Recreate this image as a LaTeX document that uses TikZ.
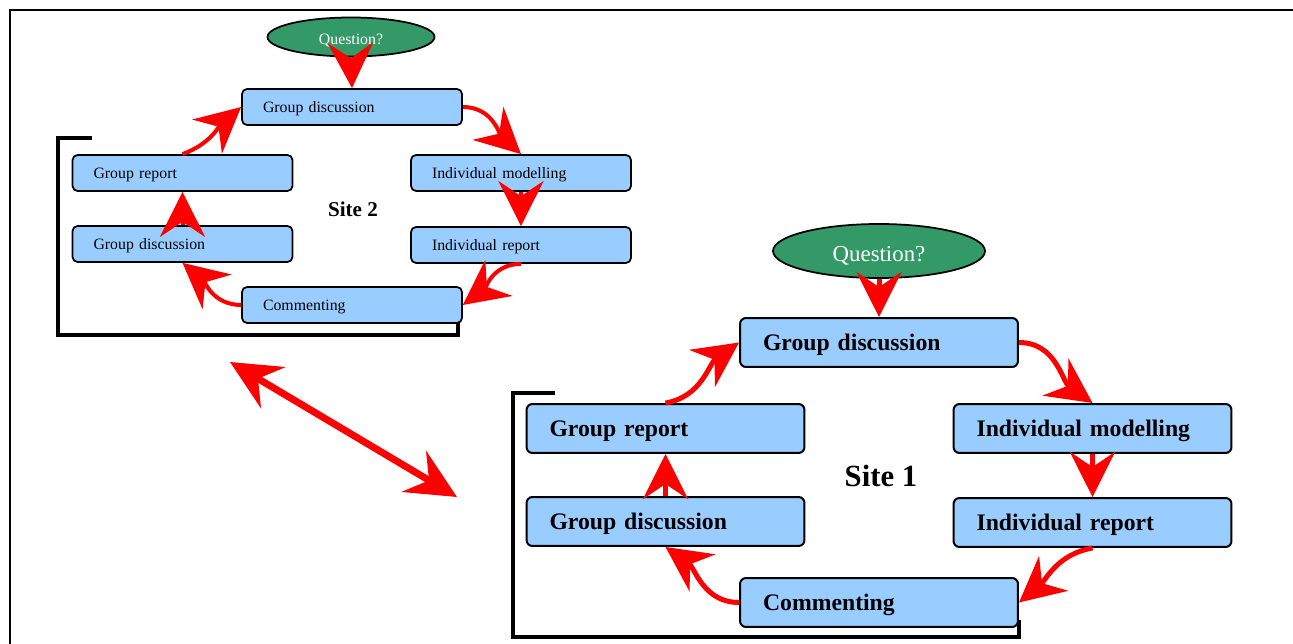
\documentclass[tikz,border=0pt]{standalone}
\usepackage{fontspec}
\setmainfont{Liberation Serif}
\usetikzlibrary{arrows.meta,shapes.geometric}
\definecolor{boxblue}{HTML}{99CCFF}
\definecolor{qgreen}{HTML}{339966}

\begin{document}
\begin{tikzpicture}[x=0.02cm, y=-0.02cm,
  bigbox/.style={draw, fill=boxblue, rounded corners=0.12cm, line width=0.04cm,
    minimum width=5.56cm, minimum height=0.98cm, text width=4.64cm, inner xsep=0.46cm,
    align=left, text depth=0pt, font=\fontsize{13.5}{15}\selectfont\bfseries},
  smallbox/.style={draw, fill=boxblue, rounded corners=0.1cm, line width=0.035cm,
    minimum width=4.4cm, minimum height=0.72cm, text width=3.56cm, inner xsep=0.42cm,
    align=left, text depth=0pt, font=\fontsize{9}{11}\selectfont},
  question/.style={ellipse, draw, fill=qgreen, line width=0.035cm, text=white,
    inner sep=0pt, text depth=0pt},
  flow/.style={red, line width=0.1cm, -{Stealth[length=0.9cm, width=0.9cm, inset=0.3cm]}},
  thinflow/.style={flow, line width=0.08cm},
  link/.style={red, line width=0.14cm,
    {Stealth[length=1cm, width=0.95cm, inset=0.35cm]}-{Stealth[length=1cm, width=0.95cm, inset=0.35cm]}},
  bracket/.style={line width=0.08cm}]

  \useasboundingbox (0,0) rectangle (1293,644);

  % --- outer frame (cut by the page) ---
  \draw[line width=0.05cm] (10,700) -- (10,10) -- (1350,10);

  % --- Site 2 ---
  \node[question, minimum width=3.34cm, minimum height=0.78cm, text height=9pt,
        font=\fontsize{9}{11}\selectfont] (q2) at (351,37) {Question?};
  \foreach \name/\x/\y/\txt in {gd2/352/107/Group discussion,
      gr2/182.5/173/Group report, im2/521/173/Individual modelling,
      gdl2/182.5/244/Group discussion, ir2/521/245/Individual report,
      cm2/352/305/Commenting} {
    \node[smallbox] (\name) at (\x,\y) {\txt};
  }
  \node[font=\fontsize{12}{14}\selectfont\bfseries] (site2) at (353,209) {Site 2};
  \draw[bracket] (92,138) -- (58,138) -- (58,335) -- (458,335) -- (458,322);

  \draw[thinflow] (q2.south) -- (gd2.north);
  \draw[thinflow] (gd2.east) to[out=0, in=137] (im2.north);
  \draw[thinflow] (im2.south) -- (ir2.north);
  \draw[thinflow] (ir2.south) to[out=180, in=37] (cm2.east);
  \draw[thinflow] (cm2.west) to[out=180, in=-40] (gdl2.south);
  \draw[thinflow] (gdl2.north) -- (gr2.south);
  \draw[thinflow] (gr2.north) to[out=20, in=221] (gd2.west);

  % --- Site 1 ---
  \node[question, minimum width=4.24cm, minimum height=1.08cm, text height=12.5pt,
        font=\fontsize{13}{15}\selectfont] (q1) at (879,251) {Question?};
  \foreach \name/\x/\y/\txt in {gd1/879/342.5/Group discussion,
      gr1/665.5/428.5/Group report, im1/1092.5/428.5/Individual modelling,
      gdl1/665.5/521.5/Group discussion, ir1/1092.5/522.5/Individual report,
      cm1/879/602.5/Commenting} {
    \node[bigbox] (\name) at (\x,\y) {\txt};
  }
  \node[font=\fontsize{17.5}{20}\selectfont\bfseries] (site1) at (881,476) {Site 1};
  \draw[bracket, line width=0.09cm] (555,393) -- (513,393) -- (513,637) -- (1019,637) -- (1019,620);

  \draw[flow] (q1.south) -- (gd1.north);
  \draw[flow] (gd1.east) to[out=0, in=145] (im1.north);
  \draw[flow] (im1.south) -- (ir1.north);
  \draw[flow] (ir1.south) to[out=190, in=40] (cm1.east);
  \draw[flow] (cm1.west) to[out=180, in=-35] (gdl1.south);
  \draw[flow] (gdl1.north) -- (gr1.south);
  \draw[flow] (gr1.north) to[out=10, in=215] (gd1.west);

  % --- link between the sites ---
  \coordinate (end2) at (230,362);
  \coordinate (end1) at (457,497);
  \draw[link] (end2) -- (end1);
\end{tikzpicture}
\end{document}
